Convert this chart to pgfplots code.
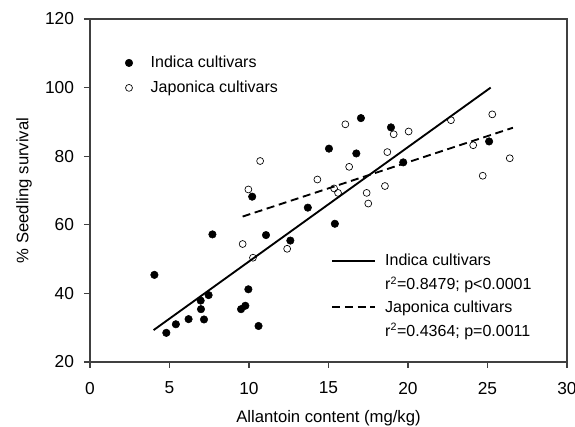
\documentclass[border=0pt]{standalone}
\usepackage{fontspec}
\setmainfont{Liberation Sans}
\usepackage{pgfplots}
\pgfplotsset{compat=1.18}
\begin{document}
\begin{tikzpicture}
\path[use as bounding box] (-67.5pt,-48.75pt) rectangle (363.75pt,271.5pt);
\pgfplotsset{
  common/.style={
    at={(0,0)}, anchor=south west, scale only axis,
    width=357.75pt, height=257.25pt,
    xmin=0, xmax=30, ymin=20, ymax=120,
    /pgf/number format/assume math mode=true,
  }
}
\begin{axis}[common,
  xtick={0,5,...,30}, ytick={20,40,...,120},
  tick align=outside, tick pos=left, major tick length=4.5pt,
  axis line style={black!75, line width=0.8pt},
  tick style={black!75, line width=0.8pt},
  tick label style={font=\fontsize{13pt}{15pt}\selectfont},
  xticklabel style={yshift=-7pt},
  yticklabel style={xshift=-4pt},
  label style={font=\fontsize{12.5pt}{15pt}\selectfont},
  xlabel={Allantoin content (mg/kg)},
  ylabel={\% Seedling survival},
  xlabel style={at={(axis description cs:0.5,-0.163)}, anchor=center},
  ylabel style={at={(axis description cs:-0.138,0.5)}, anchor=center},
  legend style={at={(axis description cs:0.065,0.908)}, anchor=north west,
    draw=none, fill=none, font=\fontsize{12pt}{14pt}\selectfont,
    row sep=4.5pt, /tikz/every odd column/.append style={column sep=11.5pt}},
  legend cell align=left,
]
\addplot[only marks, mark=*, mark size=2.8pt, black] coordinates {
(4.05,45.4) (4.8,28.5) (5.4,31) (6.2,32.5) (6.96,37.9) (6.98,35.4)
(7.17,32.4) (7.46,39.5) (7.7,57.2) (9.5,35.4) (9.77,36.4) (9.96,41.2)
(10.6,30.5) (10.2,68.2) (11.07,57.0)
(17.04,91.1) (18.93,88.4) (15.03,82.2) (16.75,80.8) (19.7,78.2)
(25.1,84.3) (13.7,65.0) (15.4,60.3) (12.6,55.4)
};
\addlegendentry{Indica cultivars}
\addplot[only marks, mark=o, mark size=2.6pt, black, mark options={fill=white, line width=0.5pt}] coordinates {
(10.7,78.6) (9.96,70.3) (9.6,54.4) (10.25,50.4) (12.4,53.0)
(16.06,89.3) (19.1,86.4) (20.04,87.2) (22.7,90.5) (25.3,92.2)
(18.7,81.2) (24.1,83.2) (26.4,79.4) (16.3,76.9) (14.3,73.2)
(24.7,74.3) (15.35,70.6) (15.6,69.3) (17.4,69.3) (17.5,66.2) (18.55,71.3)
};
\addlegendentry{Japonica cultivars}
\end{axis}
\begin{axis}[common, hide axis,
  legend style={at={(axis description cs:0.497,0.33)}, anchor=north west,
    draw=none, fill=none, font=\fontsize{12pt}{14pt}\selectfont,
    row sep=2.5pt, /tikz/every odd column/.append style={column sep=5pt}},
  legend cell align=left,
  legend image code/.code={\draw[#1] (0pt,0pt) -- (32pt,0pt);},
]
\addplot[black, line width=1.4pt] coordinates {(4,29.3) (25.2,100)};
\addlegendentry{Indica cultivars}
\addlegendimage{empty legend}
\addlegendentry{r\textsuperscript{2}=0.8479; p<0.0001}
\addplot[black, line width=1.4pt, dash pattern=on 6pt off 3.5pt] coordinates {(9.6,62.4) (26.6,88.3)};
\addlegendentry{Japonica cultivars}
\addlegendimage{empty legend}
\addlegendentry{r\textsuperscript{2}=0.4364; p=0.0011}
\end{axis}
\end{tikzpicture}
\end{document}
